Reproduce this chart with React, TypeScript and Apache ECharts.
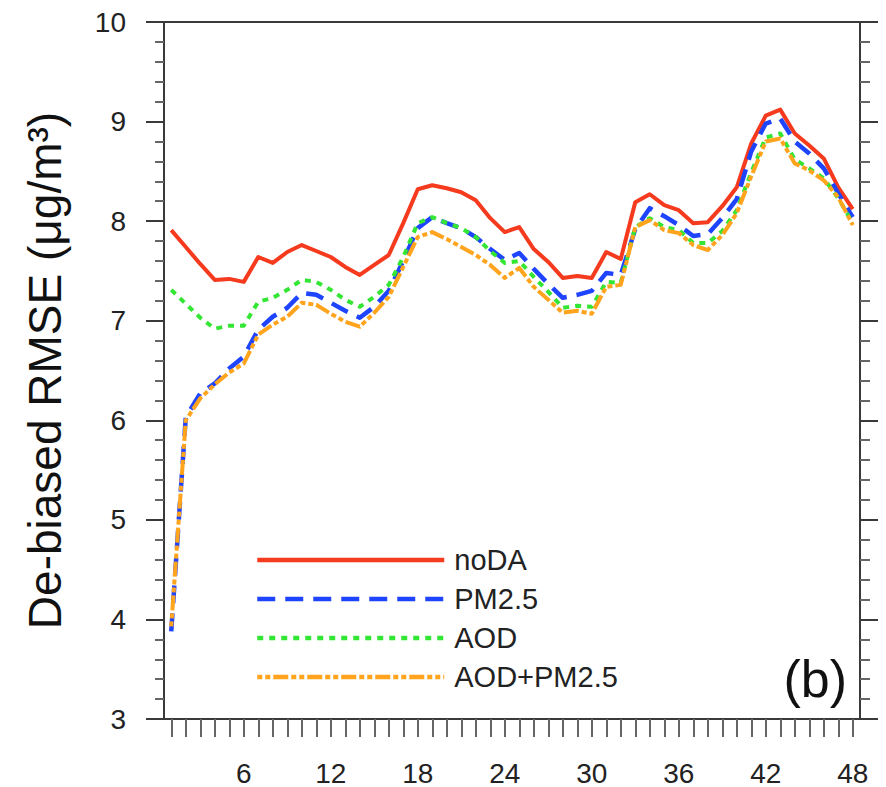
import React, { useEffect, useRef } from "react";
import * as echarts from "echarts";

const hours: string[] = Array.from({ length: 48 }, (_, i) => String(i + 1));

const noDA: number[] = [
  7.91, 7.74, 7.57, 7.41, 7.42, 7.39, 7.64, 7.58, 7.69, 7.76, 7.70, 7.64,
  7.54, 7.46, 7.56, 7.66, 7.98, 8.32, 8.36, 8.33, 8.29, 8.21, 8.03, 7.89,
  7.94, 7.72, 7.59, 7.43, 7.45, 7.43, 7.69, 7.62, 8.19, 8.27, 8.16, 8.11,
  7.98, 7.99, 8.15, 8.34, 8.78, 9.06, 9.12, 8.88, 8.76, 8.63, 8.34, 8.12,
];

const pm25: number[] = [
  3.88, 6.03, 6.27, 6.37, 6.52, 6.64, 6.91, 7.04, 7.13, 7.28, 7.26, 7.18,
  7.10, 7.03, 7.14, 7.30, 7.60, 7.93, 8.04, 7.98, 7.93, 7.84, 7.72, 7.61,
  7.68, 7.52, 7.37, 7.23, 7.26, 7.30, 7.48, 7.46, 7.92, 8.13, 8.05, 7.96,
  7.85, 7.87, 8.03, 8.22, 8.70, 8.98, 9.03, 8.80, 8.68, 8.53, 8.28, 8.04,
];

const aod: number[] = [
  7.31, 7.17, 7.03, 6.92, 6.95, 6.95, 7.19, 7.23, 7.31, 7.41, 7.39, 7.31,
  7.21, 7.14, 7.24, 7.36, 7.64, 7.98, 8.04, 7.98, 7.93, 7.84, 7.70, 7.58,
  7.60, 7.44, 7.29, 7.13, 7.15, 7.14, 7.39, 7.38, 7.94, 8.03, 7.94, 7.91,
  7.78, 7.78, 7.90, 8.11, 8.49, 8.84, 8.88, 8.62, 8.53, 8.43, 8.23, 7.98,
];

const aodPm25: number[] = [
  3.93, 6.00, 6.22, 6.36, 6.48, 6.57, 6.86, 6.96, 7.04, 7.18, 7.16, 7.07,
  6.99, 6.94, 7.08, 7.24, 7.54, 7.84, 7.89, 7.82, 7.74, 7.66, 7.56, 7.43,
  7.53, 7.34, 7.21, 7.08, 7.10, 7.07, 7.34, 7.36, 7.94, 8.01, 7.91, 7.88,
  7.76, 7.71, 7.86, 8.08, 8.45, 8.80, 8.83, 8.58, 8.51, 8.41, 8.24, 7.96,
];

const seriesNames: string[] = ["noDA", "PM2.5", "AOD", "AOD+PM2.5"];

const FONT = "'Liberation Sans', Arial, Helvetica, sans-serif";
const AXIS_COLOR = "#3a3a3a";

export default function App() {
  const ref = useRef<HTMLDivElement>(null);

  useEffect(() => {
    if (!ref.current) return;
    const chart = echarts.init(ref.current, undefined, { renderer: "svg" });

    const gridLeft = 164;
    const gridRight = 26;
    const gridTop = 22;
    const gridBottom = 68;
    const W = 886;
    const H = 787;

    const mkSeries = (name: string, data: number[], color: string, width: number, type: any) => ({
      name,
      type: "line",
      data,
      symbol: "none",
      showSymbol: false,
      xAxisIndex: 0,
      yAxisIndex: 0,
      itemStyle: { color },
      lineStyle: { color, width, type, cap: "butt", join: "round" },
    });

    const option: any = {
      animation: false,
      backgroundColor: "#ffffff",
      textStyle: { fontFamily: FONT },
      grid: { left: gridLeft, right: gridRight, top: gridTop, bottom: gridBottom, containLabel: false },
      legend: {
        orient: "vertical",
        left: 255,
        top: 545,
        padding: 0,
        itemWidth: 187,
        itemHeight: 14,
        itemGap: 9,
        data: seriesNames,
        itemStyle: { opacity: 0, borderWidth: 0 },
        lineStyle: { width: 4.5 },
        textStyle: {
          fontFamily: FONT,
          fontSize: 29,
          lineHeight: 30,
          color: "#222",
          padding: [0, 0, 0, 5],
        },
      },
      xAxis: [
        {
          type: "category",
          data: hours,
          boundaryGap: true,
          position: "bottom",
          axisLine: { show: true, onZero: false, lineStyle: { color: AXIS_COLOR, width: 2 } },
          axisTick: {
            show: true,
            alignWithLabel: true,
            interval: 0,
            inside: false,
            length: 18,
            lineStyle: { color: "#666", width: 2 },
          },
          axisLabel: {
            interval: (index: number) => (index + 1) % 6 === 0,
            margin: 40,
            fontSize: 28,
            fontFamily: FONT,
            color: "#222",
          },
          splitLine: { show: false },
        },
        {
          type: "category",
          data: hours,
          position: "top",
          axisLine: { show: true, onZero: false, lineStyle: { color: AXIS_COLOR, width: 2 } },
          axisTick: { show: false },
          axisLabel: { show: false },
          splitLine: { show: false },
        },
      ],
      yAxis: [
        {
          type: "value",
          min: 3,
          max: 10,
          interval: 1,
          position: "left",
          name: "De-biased RMSE (μg/m³)",
          nameLocation: "middle",
          nameGap: 96,
          nameTextStyle: { fontSize: 46, fontFamily: FONT, color: "#111" },
          axisLine: { show: true, onZero: false, lineStyle: { color: AXIS_COLOR, width: 2 } },
          axisTick: { show: true, inside: false, length: 18, lineStyle: { color: AXIS_COLOR, width: 2 } },
          minorTick: { show: true, splitNumber: 5, length: 9, lineStyle: { color: "#666", width: 2 } },
          axisLabel: { margin: 38, fontSize: 28, fontFamily: FONT, color: "#222" },
          splitLine: { show: false },
          minorSplitLine: { show: false },
        },
        {
          type: "value",
          min: 3,
          max: 10,
          interval: 1,
          position: "right",
          axisLine: { show: true, onZero: false, lineStyle: { color: AXIS_COLOR, width: 2 } },
          axisTick: { show: true, inside: false, length: 18, lineStyle: { color: AXIS_COLOR, width: 2 } },
          minorTick: { show: true, splitNumber: 5, length: 10, lineStyle: { color: "#666", width: 2 } },
          axisLabel: { show: false },
          splitLine: { show: false },
        },
      ],
      graphic: [
        {
          type: "line",
          shape: { x1: gridLeft - 18, y1: gridTop, x2: W - gridRight + 18, y2: gridTop },
          style: { stroke: AXIS_COLOR, lineWidth: 2 },
          silent: true,
        },
        {
          type: "line",
          shape: { x1: gridLeft - 18, y1: H - gridBottom, x2: W - gridRight + 6, y2: H - gridBottom },
          style: { stroke: AXIS_COLOR, lineWidth: 2 },
          silent: true,
        },
        {
          type: "text",
          x: 847,
          y: 679,
          style: {
            text: "(b)",
            font: `52px ${FONT}`,
            fill: "#111",
            textAlign: "right",
            textVerticalAlign: "middle",
          },
          silent: true,
        },
      ],
      series: [
        mkSeries(seriesNames[0], noDA, "#f53a1e", 4, "solid"),
        mkSeries(seriesNames[1], pm25, "#1f44ff", 4.5, [18, 10]),
        mkSeries(seriesNames[2], aod, "#33e633", 4, [6, 6]),
        mkSeries(seriesNames[3], aodPm25, "#ffa41c", 4, [5, 3, 5, 3, 15, 3]),
      ],
    };

    chart.setOption(option);
    return () => chart.dispose();
  }, []);

  return (
    <div
      ref={ref}
      style={{ position: "fixed", left: 0, top: 0, width: 886, height: 787, background: "#fff" }}
    />
  );
}
